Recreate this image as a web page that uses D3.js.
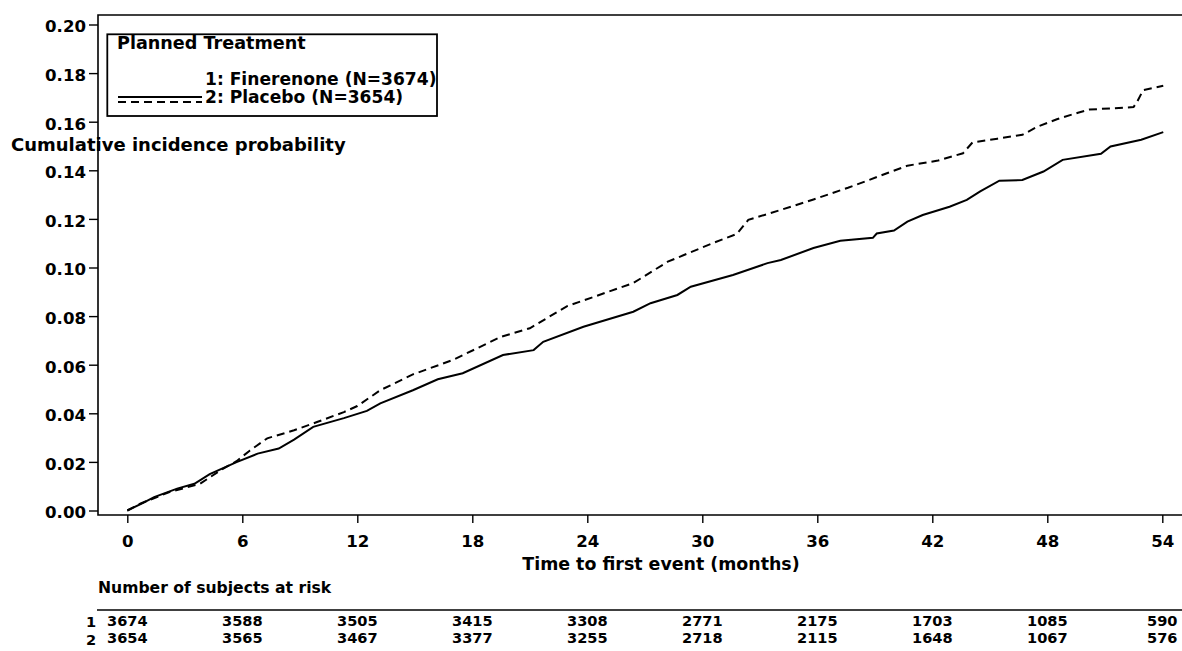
<!DOCTYPE html>
<html>
<head>
<meta charset="utf-8">
<script src="https://cdn.jsdelivr.net/npm/d3@7"></script>
<style>
  body { margin: 0; background: #fff; }
  text { font-family: "DejaVu Sans", sans-serif; font-weight: bold; fill: #000; }
</style>
</head>
<body>
<div id="chart"></div>
<script>
// x ticks (months) and y ticks
var month_ticks = [0, 6, 12, 18, 24, 30, 36, 42, 48, 54];
var prob_ticks = [0, 0.02, 0.04, 0.06, 0.08, 0.10, 0.12, 0.14, 0.16, 0.18, 0.20];

// curve: finerenone (solid)
var fin_t = [0, 0.8, 1.4, 2.6, 3.5, 4.3, 5.7, 6.8, 7.9, 8.7, 9.7, 11.3, 12.5, 13.2, 14.9, 16.2, 17.5, 19.6, 21.2, 21.7, 23.8,
    26.4, 27.3, 28.7, 29.4, 31.6, 33.4, 34.1, 35.8, 37.2, 38.9, 39.1, 40.0, 40.7, 41.5, 42.9, 43.8, 44.5, 45.5, 46.7,
    47.8, 48.8, 50.8, 51.3, 52.9, 54.05];
var fin_v = [0, 0.003, 0.0055, 0.009, 0.011, 0.015, 0.0199, 0.0234, 0.0255, 0.0292, 0.0344, 0.038, 0.041, 0.0441, 0.0495,
    0.054, 0.0565, 0.064, 0.066, 0.0694, 0.0756, 0.0818, 0.0853, 0.0887, 0.0921, 0.0969, 0.1018, 0.1031, 0.108, 0.111,
    0.1122, 0.114, 0.1152, 0.1189, 0.1216, 0.125, 0.1278, 0.1313, 0.1357, 0.136, 0.1395, 0.1443, 0.1468, 0.1498, 0.1526,
    0.1557];

// placebo (dashed)
var pla_t = [0, 0.7, 2.2, 3.8, 4.85, 5.7, 6.4, 7.3, 8.7, 9.9, 11.3, 12.0, 13.2, 14.9, 17.0, 19.5, 21.0, 22.95, 26.4, 28.2,
    30.6, 31.8, 32.4, 34.1, 35.8, 37.6, 38.6, 39.7, 40.7, 42.3, 43.6, 44.1, 45.4, 46.7, 47.5, 48.5, 49.6, 50.2, 52.5,
    52.7, 53.0, 54.05];
var pla_v = [0, 0.0029, 0.0076, 0.011, 0.0165, 0.0203, 0.0247, 0.0297, 0.033, 0.0364, 0.0405, 0.043, 0.0495, 0.056, 0.062,
    0.0715, 0.075, 0.0841, 0.0936, 0.1024, 0.1102, 0.1138, 0.1196, 0.1237, 0.128, 0.1328, 0.1357, 0.139, 0.1419, 0.144,
    0.147, 0.1515, 0.153, 0.1546, 0.158, 0.161, 0.1637, 0.165, 0.166, 0.1684, 0.173, 0.1748];

// numbers at risk
var risk_fin = [3674, 3588, 3505, 3415, 3308, 2771, 2175, 1703, 1085, 590];
var risk_pla = [3654, 3565, 3467, 3377, 3255, 2718, 2115, 1648, 1067, 576];

var legend_labels = ["1: Finerenone (N=3674)", "2: Placebo (N=3654)"];

const W = 1182, H = 651;
const svg = d3.select("#chart").append("svg")
    .attr("width", W)
    .attr("height", H);

const frame = { left: 98, top: 15, right: 1182, bottom: 515 };

var xScale = d3.scaleLinear().domain([0, 54]).range([127.3, 1162.3]);
var yScale = d3.scaleLinear().domain([0, 0.2]).range([510.5, 24.5]);

// frame (no right side)
svg.append("path")
    .attr("d", "M" + frame.right + "," + frame.top + "H" + frame.left + "V" + frame.bottom + "H" + frame.right)
    .attr("fill", "none")
    .attr("stroke", "#000")
    .attr("stroke-width", 1.6);

// axes
var yAxis = svg.append("g")
    .attr("transform", "translate(" + frame.left + ",0)")
    .call(d3.axisLeft(yScale).tickValues(prob_ticks).tickFormat(d3.format(".2f")).tickSize(9).tickPadding(3));
yAxis.select(".domain").remove();
yAxis.selectAll("text").attr("dy", "0.45em").style("font-size", "16.6px");

var xAxis = svg.append("g")
    .attr("transform", "translate(0," + frame.bottom + ")")
    .call(d3.axisBottom(xScale).tickValues(month_ticks).tickSize(8).tickPadding(12));
xAxis.select(".domain").remove();
xAxis.selectAll("text").style("font-size", "16.6px");

svg.selectAll(".tick line").attr("stroke", "#000").attr("stroke-width", 1.4);
svg.selectAll(".tick text").attr("font-family", null);

svg.append("text")
    .attr("x", 661)
    .attr("y", 570)
    .attr("text-anchor", "middle")
    .style("font-size", "17.4px")
    .text("Time to first event (months)");

svg.append("text")
    .attr("x", 11)
    .attr("y", 151)
    .style("font-size", "18px")
    .text("Cumulative incidence probability");

// curves
function series(ts, vs) {
    return ts.map(function (t, i) { return { t: t, v: vs[i] }; });
}
var line = d3.line()
    .x(function (d) { return xScale(d.t); })
    .y(function (d) { return yScale(d.v); });

svg.append("path")
    .datum(series(fin_t, fin_v))
    .attr("fill", "none")
    .attr("stroke", "#000")
    .attr("stroke-width", 2)
    .attr("d", line);

svg.append("path")
    .datum(series(pla_t, pla_v))
    .attr("fill", "none")
    .attr("stroke", "#000")
    .attr("stroke-width", 2)
    .attr("stroke-dasharray", "8,5")
    .attr("d", line);

// legend
var lg = svg.append("g");
lg.append("rect")
    .attr("x", 107.3).attr("y", 34.3)
    .attr("width", 437 - 107.3).attr("height", 116 - 34.3)
    .attr("fill", "#fff")
    .attr("stroke", "#000")
    .attr("stroke-width", 1.8);
lg.append("text").attr("x", 117).attr("y", 48.5).style("font-size", "17.6px").text("Planned Treatment");
lg.selectAll("text.item")
    .data(legend_labels)
    .enter()
    .append("text")
    .attr("class", "item")
    .attr("x", 205)
    .attr("y", function (d, i) { return 85 + i * 18; })
    .style("font-size", "17.1px")
    .text(function (d) { return d; });
lg.append("line").attr("x1", 118).attr("x2", 202).attr("y1", 97).attr("y2", 97)
    .attr("stroke", "#000").attr("stroke-width", 2);
lg.append("line").attr("x1", 118).attr("x2", 202).attr("y1", 102).attr("y2", 102)
    .attr("stroke", "#000").attr("stroke-width", 2).attr("stroke-dasharray", "8,5");

// risk table
svg.append("text")
    .attr("x", 98)
    .attr("y", 593)
    .style("font-size", "15.6px")
    .text("Number of subjects at risk");

svg.append("line")
    .attr("x1", 97).attr("x2", W)
    .attr("y1", 610).attr("y2", 610)
    .attr("stroke", "#000")
    .attr("stroke-width", 1.6);

var rows = [risk_fin, risk_pla];
rows.forEach(function (row, r) {
    svg.append("text")
        .attr("x", 91)
        .attr("y", 627 + r * 17.5)
        .attr("text-anchor", "middle")
        .style("font-size", "14.6px")
        .text(r + 1);
    svg.append("g")
        .selectAll("text")
        .data(row)
        .enter()
        .append("text")
        .attr("x", function (d, i) { return xScale(month_ticks[i]); })
        .attr("y", 626 + r * 17)
        .attr("text-anchor", "middle")
        .style("font-size", "14.6px")
        .text(function (d) { return d; });
});
</script>
</body>
</html>
